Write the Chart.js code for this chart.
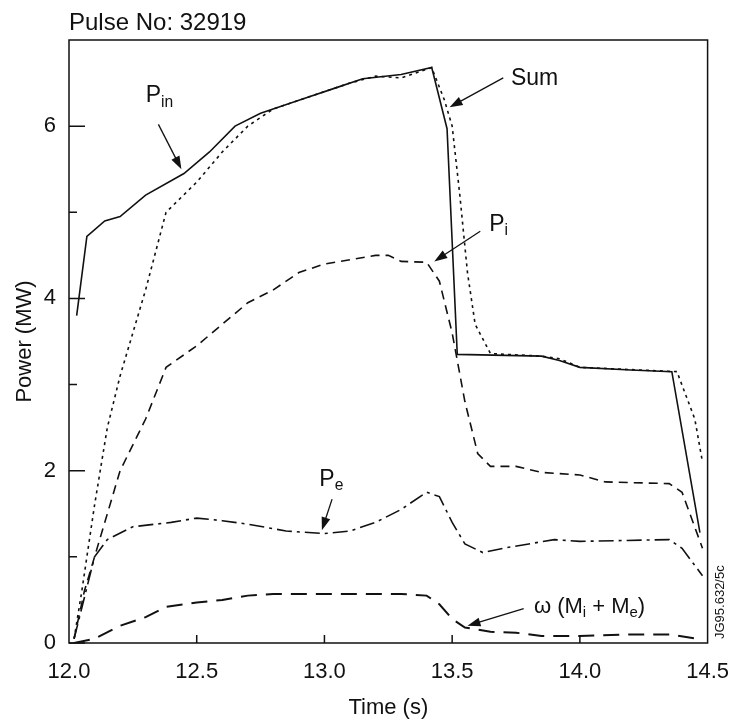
<!DOCTYPE html>
<html>
<head>
<meta charset="utf-8">
<script src="https://cdn.jsdelivr.net/npm/chart.js@4"></script>
<style>
    body { margin: 0; background: #fff; }
    #wrap { width: 737px; height: 723px; }
</style>
</head>
<body>
<div id="wrap"><canvas id="power_chart" width="737" height="723"></canvas></div>
<script>
'use strict';

// time (s) and power (MW), one pair of arrays per trace
const pin_time  = [12.03, 12.07, 12.14, 12.20, 12.30, 12.45, 12.55, 12.65, 12.75, 12.90, 13.05, 13.15, 13.30, 13.42, 13.48, 13.52, 13.85, 13.92, 14.00, 14.20, 14.36, 14.47];
const pin_power = [3.80, 4.72, 4.90, 4.95, 5.20, 5.45, 5.70, 6.00, 6.15, 6.30, 6.45, 6.55, 6.60, 6.68, 5.97, 3.35, 3.33, 3.28, 3.20, 3.17, 3.15, 1.28];

const sum_time  = [12.02, 12.05, 12.10, 12.15, 12.20, 12.30, 12.38, 12.50, 12.60, 12.70, 12.80, 12.90, 13.00, 13.10, 13.20, 13.30, 13.42, 13.47, 13.50, 13.53, 13.56, 13.59, 13.65, 13.85, 13.92, 14.00, 14.38, 14.45, 14.48];
const sum_power = [0.05, 0.60, 1.60, 2.50, 3.10, 4.10, 5.00, 5.35, 5.70, 6.00, 6.20, 6.30, 6.40, 6.50, 6.58, 6.56, 6.68, 6.30, 6.00, 5.20, 4.30, 3.70, 3.36, 3.33, 3.30, 3.20, 3.15, 2.60, 2.10];

const pi_time  = [12.02, 12.06, 12.10, 12.15, 12.20, 12.30, 12.38, 12.50, 12.60, 12.70, 12.80, 12.90, 13.00, 13.10, 13.20, 13.25, 13.30, 13.40, 13.45, 13.50, 13.55, 13.60, 13.65, 13.75, 13.85, 14.00, 14.10, 14.35, 14.40, 14.48];
const pi_power = [0.05, 0.60, 1.00, 1.50, 2.00, 2.60, 3.20, 3.45, 3.70, 3.95, 4.10, 4.30, 4.40, 4.45, 4.50, 4.50, 4.43, 4.42, 4.20, 3.60, 2.80, 2.20, 2.05, 2.05, 1.98, 1.95, 1.87, 1.85, 1.75, 1.10];

const pe_time  = [12.02, 12.10, 12.15, 12.25, 12.40, 12.50, 12.60, 12.70, 12.85, 13.00, 13.10, 13.20, 13.30, 13.40, 13.45, 13.50, 13.55, 13.62, 13.70, 13.80, 13.90, 14.00, 14.35, 14.40, 14.48];
const pe_power = [0.05, 1.00, 1.20, 1.35, 1.40, 1.45, 1.42, 1.38, 1.30, 1.27, 1.30, 1.40, 1.55, 1.75, 1.70, 1.40, 1.15, 1.05, 1.10, 1.15, 1.20, 1.18, 1.20, 1.10, 0.78];

const w_time  = [12.02, 12.10, 12.20, 12.30, 12.38, 12.50, 12.60, 12.70, 12.80, 13.00, 13.20, 13.30, 13.40, 13.45, 13.50, 13.55, 13.65, 13.75, 13.85, 14.00, 14.20, 14.35, 14.48];
const w_power = [0.00, 0.05, 0.20, 0.30, 0.42, 0.47, 0.50, 0.55, 0.57, 0.57, 0.57, 0.57, 0.55, 0.45, 0.28, 0.18, 0.13, 0.12, 0.08, 0.08, 0.10, 0.10, 0.04];

const y_major = [0, 2, 4, 6];
const y_minor = [1, 3, 5];
const x_ticks = [12.5, 13.0, 13.5, 14.0];

const FONT = "'Liberation Sans', Arial, sans-serif";
const INK = '#111';

const to_points = (xs, ys) => xs.map((x, i) => ({x: x, y: ys[i]}));

const trace = (xs, ys, dash, width) => ({
    data: to_points(xs, ys),
    borderColor: INK,
    borderWidth: width,
    borderDash: dash,
    pointRadius: 0,
    tension: 0,
    fill: false,
});

// draws text with optional subscript pieces: [[text, isSub], ...]
const draw_rich = (ctx, parts, x, y, size) => {
    let cx = x;
    for (const [txt, sub] of parts) {
        const s = sub ? size * 0.68 : size;
        ctx.font = s + 'px ' + FONT;
        ctx.fillText(txt, cx, sub ? y + size * 0.28 : y);
        cx += ctx.measureText(txt).width;
    }
};

const arrow = (ctx, x0, y0, x1, y1) => {
    const ang = Math.atan2(y1 - y0, x1 - x0);
    ctx.beginPath();
    ctx.moveTo(x0, y0);
    ctx.lineTo(x1 - 8 * Math.cos(ang), y1 - 8 * Math.sin(ang));
    ctx.stroke();
    ctx.beginPath();
    ctx.moveTo(x1, y1);
    ctx.lineTo(x1 - 13 * Math.cos(ang) + 4.5 * Math.sin(ang), y1 - 13 * Math.sin(ang) - 4.5 * Math.cos(ang));
    ctx.lineTo(x1 - 13 * Math.cos(ang) - 4.5 * Math.sin(ang), y1 - 13 * Math.sin(ang) + 4.5 * Math.cos(ang));
    ctx.closePath();
    ctx.fill();
};

const frame_and_notes = {
    id: 'frame_and_notes',
    afterDraw(chart) {
        const {ctx, chartArea: a, scales: {x, y}} = chart;
        ctx.save();
        ctx.strokeStyle = INK;
        ctx.fillStyle = INK;
        ctx.lineWidth = 1.5;
        ctx.setLineDash([]);
        ctx.strokeRect(a.left, a.top, a.right - a.left, a.bottom - a.top);

        ctx.beginPath();
        y_major.forEach(v => { const py = y.getPixelForValue(v); ctx.moveTo(a.left, py); ctx.lineTo(a.left + 16, py); });
        y_minor.forEach(v => { const py = y.getPixelForValue(v); ctx.moveTo(a.left, py); ctx.lineTo(a.left + 8, py); });
        x_ticks.forEach(v => { const px = x.getPixelForValue(v); ctx.moveTo(px, a.bottom); ctx.lineTo(px, a.bottom - 8); });
        ctx.stroke();

        // title
        ctx.textBaseline = 'middle';
        ctx.textAlign = 'left';
        ctx.font = '24px ' + FONT;
        ctx.fillText('Pulse No: 32919', a.left, 23);

        // trace labels and arrows
        const X = v => x.getPixelForValue(v);
        const Y = v => y.getPixelForValue(v);
        ctx.lineWidth = 1.3;
        draw_rich(ctx, [['P', false], ['in', true]], X(12.30), Y(6.35), 23);
        arrow(ctx, X(12.35), Y(6.02), X(12.44), Y(5.50));

        ctx.font = '23px ' + FONT;
        ctx.fillText('Sum', X(13.73), Y(6.55));
        arrow(ctx, X(13.70), Y(6.56), X(13.49), Y(6.22));

        draw_rich(ctx, [['P', false], ['i', true]], X(13.645), Y(4.86), 23);
        arrow(ctx, X(13.61), Y(4.78), X(13.43), Y(4.43));

        draw_rich(ctx, [['P', false], ['e', true]], X(12.98), Y(1.90), 23);
        arrow(ctx, X(13.03), Y(1.67), X(12.99), Y(1.31));

        draw_rich(ctx, [['ω (M', false], ['i', true], [' + M', false], ['e', true], [')', false]], X(13.82), Y(0.42), 22);
        arrow(ctx, X(13.78), Y(0.40), X(13.56), Y(0.20));

        // plate reference
        ctx.save();
        ctx.translate(a.right + 13, a.bottom - 4);
        ctx.rotate(-Math.PI / 2);
        ctx.font = '13px ' + FONT;
        ctx.fillText('JG95.632/5c', 0, 0);
        ctx.restore();

        ctx.restore();
    }
};

new Chart(document.getElementById('power_chart'), {
    type: 'line',
    data: {
        datasets: [
            trace(pin_time, pin_power, [], 1.6),
            trace(sum_time, sum_power, [3, 4], 1.6),
            trace(pi_time, pi_power, [9, 6], 1.6),
            trace(pe_time, pe_power, [15, 5, 3, 5], 1.6),
            trace(w_time, w_power, [16, 9], 2),
        ],
    },
    options: {
        responsive: false,
        animation: false,
        layout: {padding: {top: 40, right: 24, left: 0, bottom: 0}},
        plugins: {legend: {display: false}, tooltip: {enabled: false}},
        scales: {
            x: {
                type: 'linear',
                min: 12,
                max: 14.5,
                afterFit: (s) => { s.height = 80; },
                grid: {display: false},
                border: {display: false},
                ticks: {
                    stepSize: 0.5,
                    padding: 8,
                    color: INK,
                    maxRotation: 0,
                    font: {family: FONT, size: 22},
                    callback: (v) => v.toFixed(1),
                },
                title: {display: true, text: 'Time (s)', color: INK, padding: {top: 0, bottom: 2}, font: {family: FONT, size: 22}},
            },
            y: {
                min: 0,
                max: 7.0,
                afterFit: (s) => { s.width = 69; },
                grid: {display: false},
                border: {display: false},
                ticks: {
                    stepSize: 1,
                    padding: 5,
                    color: INK,
                    font: {family: FONT, size: 22},
                    callback: (v) => (v % 2 === 0 ? String(v) : ''),
                },
                title: {display: true, text: 'Power (MW)', color: INK, padding: {top: 12, bottom: 0}, font: {family: FONT, size: 22}},
            },
        },
    },
    plugins: [frame_and_notes],
});
</script>
</body>
</html>
